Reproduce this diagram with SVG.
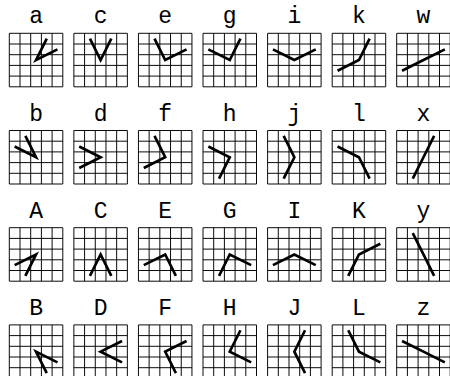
<svg xmlns="http://www.w3.org/2000/svg" xmlns:xlink="http://www.w3.org/1999/xlink" width="450" height="376" viewBox="0 0 450 376">
<style>
.lb{font-family:"Liberation Mono","DejaVu Sans Mono",monospace;font-size:23px;text-anchor:middle;fill:#000}
.grid{fill:none;stroke:#000;stroke-width:0.09}
.arm{fill:none;stroke:#000;stroke-width:0.25;stroke-linejoin:miter;stroke-linecap:butt}
</style>
<defs>
<path id="grid" class="grid" d="M0 0H5M0 1H5M0 2H5M0 3H5M0 4H5M0 5H5M0 0V5M1 0V5M2 0V5M3 0V5M4 0V5M5 0V5"/>
</defs>
<rect width="450" height="376" fill="#fff"/>
<g id="nodes">
<!-- row 1 -->
<g id="lower-a" transform="translate(9.3,33.3)"><text class="lb" x="26.75" y="-10">a</text><g transform="scale(10.7)"><use href="#grid" xlink:href="#grid"/><polyline class="arm" points="3.5,0.5 2.5,2.5 4.5,1.5"/></g></g>
<g id="lower-c" transform="translate(73.87,33.3)"><text class="lb" x="26.75" y="-10">c</text><g transform="scale(10.7)"><use href="#grid" xlink:href="#grid"/><polyline class="arm" points="1.5,0.5 2.5,2.5 3.5,0.5"/></g></g>
<g id="lower-e" transform="translate(138.44,33.3)"><text class="lb" x="26.75" y="-10">e</text><g transform="scale(10.7)"><use href="#grid" xlink:href="#grid"/><polyline class="arm" points="1.5,0.5 2.5,2.5 4.5,1.5"/></g></g>
<g id="lower-g" transform="translate(203.0,33.3)"><text class="lb" x="26.75" y="-10">g</text><g transform="scale(10.7)"><use href="#grid" xlink:href="#grid"/><polyline class="arm" points="0.5,1.5 2.5,2.5 3.5,0.5"/></g></g>
<g id="lower-i" transform="translate(267.6,33.3)"><text class="lb" x="26.75" y="-10">i</text><g transform="scale(10.7)"><use href="#grid" xlink:href="#grid"/><polyline class="arm" points="0.5,1.5 2.5,2.5 4.5,1.5"/></g></g>
<g id="lower-k" transform="translate(332.2,33.3)"><text class="lb" x="26.75" y="-10">k</text><g transform="scale(10.7)"><use href="#grid" xlink:href="#grid"/><polyline class="arm" points="0.5,3.5 2.5,2.5 3.5,0.5"/></g></g>
<g id="lower-w" transform="translate(396.7,33.3)"><text class="lb" x="26.75" y="-10">w</text><g transform="scale(10.7)"><use href="#grid" xlink:href="#grid"/><polyline class="arm" points="0.5,3.5 2.5,2.5 4.5,1.5"/></g></g>
<!-- row 2 -->
<g id="lower-b" transform="translate(9.3,130.5)"><text class="lb" x="26.75" y="-10">b</text><g transform="scale(10.7)"><use href="#grid" xlink:href="#grid"/><polyline class="arm" points="0.5,1.5 2.5,2.5 1.5,0.5"/></g></g>
<g id="lower-d" transform="translate(73.87,130.5)"><text class="lb" x="26.75" y="-10">d</text><g transform="scale(10.7)"><use href="#grid" xlink:href="#grid"/><polyline class="arm" points="0.5,1.5 2.5,2.5 0.5,3.5"/></g></g>
<g id="lower-f" transform="translate(138.44,130.5)"><text class="lb" x="26.75" y="-10">f</text><g transform="scale(10.7)"><use href="#grid" xlink:href="#grid"/><polyline class="arm" points="1.5,0.5 2.5,2.5 0.5,3.5"/></g></g>
<g id="lower-h" transform="translate(203.0,130.5)"><text class="lb" x="26.75" y="-10">h</text><g transform="scale(10.7)"><use href="#grid" xlink:href="#grid"/><polyline class="arm" points="0.5,1.5 2.5,2.5 1.5,4.5"/></g></g>
<g id="lower-j" transform="translate(267.6,130.5)"><text class="lb" x="26.75" y="-10">j</text><g transform="scale(10.7)"><use href="#grid" xlink:href="#grid"/><polyline class="arm" points="1.5,0.5 2.5,2.5 1.5,4.5"/></g></g>
<g id="lower-l" transform="translate(332.2,130.5)"><text class="lb" x="26.75" y="-10">l</text><g transform="scale(10.7)"><use href="#grid" xlink:href="#grid"/><polyline class="arm" points="0.5,1.5 2.5,2.5 3.5,4.5"/></g></g>
<g id="lower-x" transform="translate(396.7,130.5)"><text class="lb" x="26.75" y="-10">x</text><g transform="scale(10.7)"><use href="#grid" xlink:href="#grid"/><polyline class="arm" points="3.5,0.5 2.5,2.5 1.5,4.5"/></g></g>
<!-- row 3 -->
<g id="upper-A" transform="translate(9.3,227.7)"><text class="lb" x="26.75" y="-10">A</text><g transform="scale(10.7)"><use href="#grid" xlink:href="#grid"/><polyline class="arm" points="0.5,3.5 2.5,2.5 1.5,4.5"/></g></g>
<g id="upper-C" transform="translate(73.87,227.7)"><text class="lb" x="26.75" y="-10">C</text><g transform="scale(10.7)"><use href="#grid" xlink:href="#grid"/><polyline class="arm" points="1.5,4.5 2.5,2.5 3.5,4.5"/></g></g>
<g id="upper-E" transform="translate(138.44,227.7)"><text class="lb" x="26.75" y="-10">E</text><g transform="scale(10.7)"><use href="#grid" xlink:href="#grid"/><polyline class="arm" points="0.5,3.5 2.5,2.5 3.5,4.5"/></g></g>
<g id="upper-G" transform="translate(203.0,227.7)"><text class="lb" x="26.75" y="-10">G</text><g transform="scale(10.7)"><use href="#grid" xlink:href="#grid"/><polyline class="arm" points="1.5,4.5 2.5,2.5 4.5,3.5"/></g></g>
<g id="upper-I" transform="translate(267.6,227.7)"><text class="lb" x="26.75" y="-10">I</text><g transform="scale(10.7)"><use href="#grid" xlink:href="#grid"/><polyline class="arm" points="0.5,3.5 2.5,2.5 4.5,3.5"/></g></g>
<g id="upper-K" transform="translate(332.2,227.7)"><text class="lb" x="26.75" y="-10">K</text><g transform="scale(10.7)"><use href="#grid" xlink:href="#grid"/><polyline class="arm" points="1.5,4.5 2.5,2.5 4.5,1.5"/></g></g>
<g id="lower-y" transform="translate(396.7,227.7)"><text class="lb" x="26.75" y="-10">y</text><g transform="scale(10.7)"><use href="#grid" xlink:href="#grid"/><polyline class="arm" points="1.5,0.5 2.5,2.5 3.5,4.5"/></g></g>
<!-- row 4 -->
<g id="upper-B" transform="translate(9.3,324.9)"><text class="lb" x="26.75" y="-10">B</text><g transform="scale(10.7)"><use href="#grid" xlink:href="#grid"/><polyline class="arm" points="3.5,4.5 2.5,2.5 4.5,3.5"/></g></g>
<g id="upper-D" transform="translate(73.87,324.9)"><text class="lb" x="26.75" y="-10">D</text><g transform="scale(10.7)"><use href="#grid" xlink:href="#grid"/><polyline class="arm" points="4.5,1.5 2.5,2.5 4.5,3.5"/></g></g>
<g id="upper-F" transform="translate(138.44,324.9)"><text class="lb" x="26.75" y="-10">F</text><g transform="scale(10.7)"><use href="#grid" xlink:href="#grid"/><polyline class="arm" points="4.5,1.5 2.5,2.5 3.5,4.5"/></g></g>
<g id="upper-H" transform="translate(203.0,324.9)"><text class="lb" x="26.75" y="-10">H</text><g transform="scale(10.7)"><use href="#grid" xlink:href="#grid"/><polyline class="arm" points="3.5,0.5 2.5,2.5 4.5,3.5"/></g></g>
<g id="upper-J" transform="translate(267.6,324.9)"><text class="lb" x="26.75" y="-10">J</text><g transform="scale(10.7)"><use href="#grid" xlink:href="#grid"/><polyline class="arm" points="3.5,0.5 2.5,2.5 3.5,4.5"/></g></g>
<g id="upper-L" transform="translate(332.2,324.9)"><text class="lb" x="26.75" y="-10">L</text><g transform="scale(10.7)"><use href="#grid" xlink:href="#grid"/><polyline class="arm" points="1.5,0.5 2.5,2.5 4.5,3.5"/></g></g>
<g id="lower-z" transform="translate(396.7,324.9)"><text class="lb" x="26.75" y="-10">z</text><g transform="scale(10.7)"><use href="#grid" xlink:href="#grid"/><polyline class="arm" points="0.5,1.5 2.5,2.5 4.5,3.5"/></g></g>
</g>
<g id="connectors"/>
</svg>
